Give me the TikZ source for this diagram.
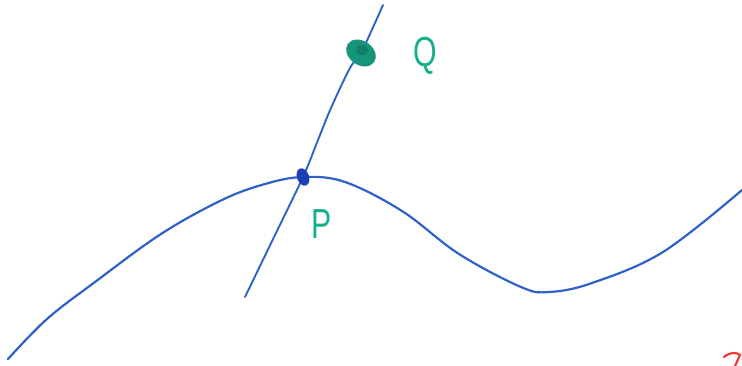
\documentclass[tikz,border=0pt]{standalone}
\usepackage{fontspec}
\setmainfont{Liberation Sans}
\definecolor{curveblue}{HTML}{2F62C8}
\definecolor{dotblue}{HTML}{1C3FB5}
\definecolor{labelteal}{HTML}{17B08E}
\definecolor{blobteal}{HTML}{16957A}
\definecolor{markred}{HTML}{F03A3A}
\tikzset{
  curve/.style={draw=curveblue, line width=2.2pt, line cap=round, line join=round},
  lbl/.style={text=labelteal, font=\fontsize{42}{42}\selectfont, xscale=0.72, inner sep=0pt},
}
\begin{document}
\begin{tikzpicture}[x=1pt,y=-1pt]
\useasboundingbox (0,0) rectangle (742,365);
\coordinate (P) at (303,177);
\coordinate (Q) at (361,53);
% main wavy curve
\draw[curve] plot[smooth, tension=0.6] coordinates {(8,359) (47,319) (95,282) (161,234) (222,200) (265,184) (P) (345,182) (402,211) (459,254) (521,287) (549,292) (592,283) (663,252) (742,190)};
% transversal curve
\draw[curve, line width=1.9pt] plot[smooth, tension=0.6] coordinates {(245,297) (275,235) (P) (318,140) (331,108) (350,68) (Q) (383,5)};
% points
\fill[blobteal] (Q) ellipse[x radius=16, y radius=12, rotate=-35];
\fill[blobteal!70!black, opacity=0.5] (362,50) ellipse[x radius=6, y radius=5];
\fill[dotblue] (P) ellipse[x radius=6, y radius=9, rotate=20];
% labels
\node[lbl] (qlbl) at (425,56) {Q};
\node[lbl] (plbl) at (322,224) {P};
% red partial mark in the corner
\draw[markred, line width=2.2pt, line cap=round] (724,357) .. controls (730,352) and (736,352) .. (740,355) -- (735,366);
\end{tikzpicture}
\end{document}
